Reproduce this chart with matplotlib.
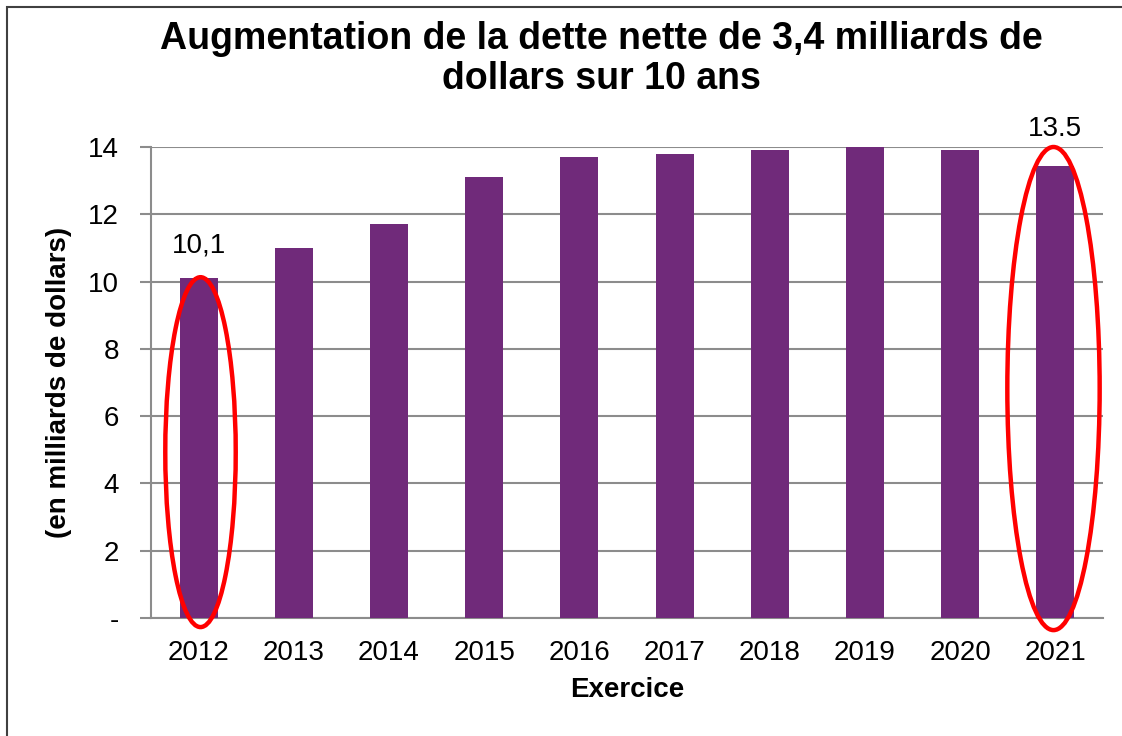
import matplotlib
matplotlib.use('Agg')
import matplotlib.pyplot as plt
from matplotlib.patches import Ellipse, Rectangle

plt.rcParams['font.family'] = ['Liberation Sans', 'DejaVu Sans']

years = ['2012', '2013', '2014', '2015', '2016', '2017', '2018', '2019', '2020', '2021']
dette = [10.1, 11.0, 11.7, 13.1, 13.7, 13.8, 13.9, 14.0, 13.9, 13.45]
ytick_vals = [0, 2, 4, 6, 8, 10, 12, 14]
ytick_labels = ['-', '2', '4', '6', '8', '10', '12', '14']

fig = plt.figure(figsize=(11.22, 7.36), dpi=100)
ax = fig.add_axes([151/1122, 118/736, 952/1122, 471/736])

x = range(len(years))
ax.bar(x, dette, width=0.4, color='#702A7A', zorder=3)

ax.set_xlim(-0.5, len(years) - 0.5)
ax.set_ylim(0, 14)
ax.set_yticks(ytick_vals)
ax.set_yticklabels(ytick_labels)
ax.set_xticks(list(x))
ax.set_xticklabels(years)
ax.yaxis.grid(True, color='#8c8c8c', linewidth=1.5, zorder=0)

for s in ['top', 'right']:
    ax.spines[s].set_visible(False)
for s in ['left', 'bottom']:
    ax.spines[s].set_color('#8c8c8c')
    ax.spines[s].set_linewidth(1.5)
ax.tick_params(axis='y', length=8, width=1.5, color='#8c8c8c', labelsize=20, pad=15)
ax.tick_params(axis='x', length=0, labelsize=20, pad=16)

ax.set_xlabel('Exercice', fontsize=20, fontweight='bold')
ax.set_ylabel('(en milliards de dollars)', fontsize=20, fontweight='bold')
ax.xaxis.set_label_coords(0.5, -0.125)
ax.yaxis.set_label_coords(-0.083, 0.5)

# valeurs annotées
ax.text(0, dette[0] + 0.6, '10,1', ha='center', va='bottom', fontsize=20)
ax.text(9, 14.15, '13.5', ha='center', va='bottom', fontsize=20)

# ellipses rouges
ax.add_patch(Ellipse((0.02, 4.93), 0.74, 10.4, fill=False, edgecolor='red',
                     linewidth=3.2, clip_on=False, zorder=5))
ax.add_patch(Ellipse((8.98, 6.82), 0.97, 14.36, fill=False, edgecolor='red',
                     linewidth=3.2, clip_on=False, zorder=5))

fig.text(601/1122, 1 - 59/736, 'Augmentation de la dette nette de 3,4 milliards de\ndollars sur 10 ans',
         ha='center', va='center', fontsize=27, fontweight='bold', linespacing=1.15)

fig.patches.append(Rectangle((7/1122, -0.05), 1.2, 1.05 - 7/736, transform=fig.transFigure,
                             fill=False, edgecolor='#404040', linewidth=1.5))

fig.savefig('out.png', dpi=100)
